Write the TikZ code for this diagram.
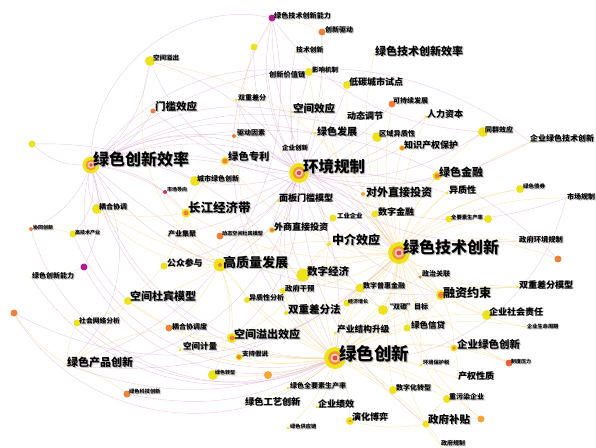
\documentclass[tikz,border=0pt]{standalone}
\usepackage{fontspec}
\setmainfont{Noto Sans CJK SC}
\usetikzlibrary{backgrounds}
\definecolor{ky}{RGB}{238,226,30}
\definecolor{ko}{RGB}{240,128,60}
\definecolor{kol}{RGB}{246,165,55}
\definecolor{kor}{RGB}{232,95,60}
\definecolor{kp}{RGB}{180,30,140}
\definecolor{kr}{RGB}{215,50,80}
\definecolor{ecp}{RGB}{210,150,200}
\definecolor{ecy}{RGB}{245,200,95}
\definecolor{hubo}{RGB}{245,150,40}
\definecolor{hubi}{RGB}{250,205,195}
\definecolor{hubr}{RGB}{228,70,70}
\tikzset{
  kdot/.style={circle,inner sep=0pt,draw=none},
  klab/.style={inner sep=0pt,anchor=west,text=black},
  edgep/.style={draw=ecp,line width=0.45pt,opacity=0.45},
  edgey/.style={draw=ecy,line width=0.45pt,opacity=0.42}
}
\newcommand\shd[1]{\rlap{\kern0.8pt\raisebox{-0.8pt}{\color{black!28}#1}}#1}
\newcommand\kd[5]{\node[kdot,minimum size=#4pt,fill=#5] (#1) at (#2,#3) {};}
\newcommand\kl[5]{\node[klab,font=\fontsize{#4pt}{#4pt}\selectfont\bfseries] (#1l) at (#2,#3) {\shd{#5}};}
\newcommand\hubrings[2]{%
  \fill[hubo] (#1) circle (#2*0.62pt);
  \fill[hubi] (#1) circle (#2*0.40pt);
  \fill[hubr] (#1) circle (#2*0.22pt);}
\newcommand\ocen[2]{\fill[ko] (#1) circle (#2pt);}
\begin{document}
\begin{tikzpicture}[x=1pt,y=-1pt]
\useasboundingbox (0,0) rectangle (596,447);
% ---------- dots ----------
\kd{GI}{335}{358}{22}{ky}
\kd{GTI}{399}{253}{22}{ky}
\kd{ER}{299}{173}{20}{ky}
\kd{GIE}{91}{165}{17}{ky}
\kd{HQ}{220}{265}{13}{ky}
\kd{DE}{303}{275}{13}{ky}
\kd{YRE}{186}{213}{9}{ky}
\kd{MED}{329}{244}{4}{ky}
\kd{FC}{441}{295}{10}{ky}
\kd{SDM}{128}{301}{8}{ky}
\kd{DIDf}{286}{313}{4}{ky}
\kd{SSE}{232}{338}{10}{ky}
\kd{GPI}{67}{365}{2}{ko}
\kd{EGI}{454}{348}{7}{ky}
\kd{GS}{426}{424}{7}{ky}
\kd{GD}{315}{133}{3}{ky}
\kd{SE}{292}{112}{3}{ky}
\kd{TE}{153}{111}{5}{ko}
\kd{GTIE}{374}{54}{2}{ky}
\kd{OFDI}{363}{194}{4}{kol}
\kd{GF}{437}{176}{9}{ky}
\kd{GP}{225}{161}{8}{ky}
\kd{FDI}{272}{230}{6}{ky}
\kd{PTM}{278}{201}{3}{ky}
\kd{DF}{375}{214}{7}{ky}
\kd{IE}{333}{218}{7}{ky}
\kd{HC}{426}{117}{3}{ky}
\kd{IPR}{402}{148}{6}{ky}
\kd{LCC}{347}{85}{8}{ky}
\kd{DA}{346}{118}{1.5}{ky}
\kd{RH}{377}{137}{10}{ky}
\kd{SD}{392}{104}{7}{ko}
\kd{PE}{483}{132}{10}{ky}
\kd{EGTI}{530}{142}{2}{ky}
\kd{HET}{447}{193}{3}{ky}
\kd{GB}{520}{189}{8}{ky}
\kd{MR}{566}{198}{1.5}{ky}
\kd{TFP}{449}{219}{7}{ky}
\kd{Y1}{488}{219}{8}{ky}
\kd{GER}{519}{241}{1.5}{ky}
\kd{O1}{558}{259}{7}{ko}
\kd{PC}{420}{277}{3.5}{ko}
\kd{DIDm}{517}{287}{3}{ky}
\kd{CSR}{487}{315}{10}{ky}
\kd{ELC}{526}{327}{1.5}{ky}
\kd{IP}{509}{363}{7}{kor}
\kd{EPT}{421}{365}{3}{ky}
\kd{PR}{457}{378}{1.5}{ky}
\kd{DT}{393}{390}{8}{ky}
\kd{HPE}{447}{399}{8}{ky}
\kd{O2}{481}{419}{7}{kol}
\kd{GR}{441}{446}{1.5}{ky}
\kd{EG}{350}{421}{8}{ky}
\kd{EP}{317}{407}{3}{ky}
\kd{GTFP}{288}{388}{3}{ky}
\kd{GPrI}{245}{403}{1.5}{ky}
\kd{O3}{268}{375}{8}{kol}
\kd{GT}{213}{375}{10}{ky}
\kd{GSC}{288}{428}{3}{ky}
\kd{SH}{239}{357}{7}{ky}
\kd{SEc}{180}{350}{3}{ky}
\kd{CCD}{169}{328}{7}{ko}
\kd{CC}{97}{209}{10}{ky}
\kd{HTI}{73}{234}{7}{ky}
\kd{CI}{31}{229}{4}{ko}
\kd{P1}{84}{267}{7}{kp}
\kd{GIC}{31}{277}{1.5}{ky}
\kd{O4}{14}{313}{7}{ko}
\kd{SNA}{77}{323}{7}{ky}
\kd{GSTI}{127}{394}{7}{ko}
\kd{MO}{165}{192}{4}{kr}
\kd{UGI}{195}{181}{10}{ky}
\kd{IA}{167}{235}{1.5}{ky}
\kd{DSDM}{220}{236}{7}{ko}
\kd{PP}{164}{266}{7}{ky}
\kd{GIv}{283}{291}{6}{ky}
\kd{HA}{247}{300}{6}{ky}
\kd{DIF}{360}{288}{9}{ky}
\kd{EGr}{347}{303}{7}{ky}
\kd{DC}{383}{310}{10}{ky}
\kd{ISU}{335}{333}{3}{ky}
\kd{GC}{407}{328}{7}{ky}
\kd{DFac}{234}{136}{4}{ko}
\kd{DDr}{236}{100}{3}{ky}
\kd{EI}{281}{152}{1.5}{ky}
\kd{IVC}{268}{77}{1.5}{ky}
\kd{IM}{309}{72}{8}{ky}
\kd{TI}{295}{52}{1.5}{ky}
\kd{ID}{322}{32}{7}{ko}
\kd{GTIC}{272}{18}{7}{kp}
\kd{Y2}{254}{47}{7}{ky}
\kd{SS}{150}{61}{10}{ky}
\kd{Y3}{32}{144}{7}{ky}
% ---------- hub rings and centres ----------
\hubrings{GI}{11}
\hubrings{GTI}{11}
\hubrings{ER}{10}
\hubrings{GIE}{8.5}
\ocen{HQ}{2}
\ocen{YRE}{2.5}
\ocen{FC}{3}
\ocen{SSE}{2.5}
\ocen{EGI}{1.8}
\ocen{GF}{2.5}
\ocen{GP}{2.5}
\ocen{FDI}{2}
\ocen{IPR}{2}
\ocen{SH}{2}
\ocen{EG}{1.5}
% ---------- edges ----------
\begin{scope}[on background layer]
\foreach \a/\b/\c in {GIE/ER/15,GIE/GTI/12,GIE/GI/-20,GIE/SS/-10,GIE/TE/-8,GIE/Y3/10,GIE/CC/-10,GIE/HTI/12,GIE/MO/5,GIE/UGI/8,GIE/YRE/10,GIE/GP/6,GIE/SE/12,GIE/GD/10,GIE/GTIC/25,GIE/SDM/-15,GIE/SSE/-12,GIE/P1/10,GIE/HQ/-8,GIE/DFac/8,GIE/GPI/20,GIE/EGTI/20,GIE/LCC/18,GIE/RH/12,GIE/FC/-10,GIE/CI/10,
ER/GTI/10,ER/GI/-15,ER/GP/5,ER/DFac/-5,ER/DDr/8,ER/SE/5,ER/GD/-5,ER/EI/5,ER/OFDI/5,ER/PTM/5,ER/FDI/-5,ER/MED/8,ER/DE/-10,ER/HQ/10,ER/YRE/5,ER/TE/8,ER/GF/-8,ER/HET/5,ER/IPR/-6,ER/HC/-8,ER/RH/-6,ER/LCC/-5,ER/IM/5,ER/TI/5,ER/ID/-5,ER/GTIC/10,ER/UGI/6,ER/PP/10,ER/DIDf/-8,ER/SSE/12,ER/DC/-8,ER/FC/-10,ER/GS/-12,ER/EGTI/-10,ER/MR/-12,ER/GER/-10,ER/DSDM/8,ER/IA/8,ER/SS/15,ER/PE/-10,ER/GPI/20,ER/SD/-5,ER/IVC/5,ER/Y2/10,
GI/P1/20,GI/O4/25,GI/GPI/10,GI/GSTI/10,GI/SNA/15,GI/HTI/20,GI/CI/25,GI/GIC/20,GTIC/GI/-20,GTI/GIE/-18,Y3/GI/18,
GTIC/GPI/22,SS/GI/20,O4/GTI/-18,GTIC/GTI/-14,GIE/O1/16,GI/MR/-20,GPI/GTI/-12,GTIC/PE/-12}
  {\pgfmathsetmacro\cc{2*\c}
  \draw[edgep] (\a) to[bend left=\cc] (\b);}
\foreach \a/\b/\c in {GTI/GI/10,GTI/FC/5,GTI/MED/5,GTI/DF/5,GTI/HET/5,GTI/GF/5,GTI/TFP/5,GTI/Y1/5,GTI/GB/8,GTI/GER/5,GTI/O1/8,GTI/PC/5,GTI/DIDm/-8,GTI/CSR/-8,GTI/EGI/-8,GTI/DC/5,GTI/DIF/5,GTI/EGr/5,GTI/GC/5,GTI/DE/-5,GTI/HQ/-8,GTI/DIDf/8,GTI/ISU/5,GTI/EGTI/8,GTI/PE/8,GTI/IPR/5,GTI/RH/5,GTI/SD/5,GTI/HC/5,GTI/GTIE/8,GTI/ID/10,GTI/IM/8,GTI/LCC/8,GTI/EPT/5,GTI/GS/-8,GTI/DT/-5,GTI/HPE/-8,GTI/MR/8,GTI/O2/-10,GTI/ELC/-8,GTI/IP/-8,GTI/GIv/5,GTI/SSE/10,GTI/GP/10,GTI/YRE/8,GTI/OFDI/5,
GI/GC/5,GI/DC/5,GI/EGI/5,GI/EPT/5,GI/PR/5,GI/DT/5,GI/HPE/5,GI/GS/5,GI/EG/5,GI/EP/5,GI/GTFP/5,GI/GSC/5,GI/GPrI/5,GI/O3/5,GI/GT/5,GI/SH/5,GI/SSE/5,GI/SEc/5,GI/CCD/5,GI/SDM/8,GI/DIDf/5,GI/ISU/5,GI/EGr/5,GI/HA/5,GI/GIv/5,GI/DE/5,GI/HQ/5,GI/MED/5,GI/FC/5,GI/CSR/8,GI/IP/8,GI/O2/8,GI/GR/5,GI/ELC/8,GI/DIDm/8,GI/PC/5,GI/DIF/5,
HQ/DE/5,HQ/YRE/5,HQ/PP/5,HQ/IA/5,HQ/DSDM/5,HQ/SSE/5,HQ/CCD/5,HQ/HA/5,HQ/SDM/5,HQ/FDI/5,HQ/SS/15,HQ/CC/10,HQ/GT/10,
DE/DIF/5,DE/GIv/5,DE/MED/5,DE/DIDf/5,DE/HA/5,DE/DF/5,DE/SSE/8,DE/DC/5,
YRE/UGI/5,YRE/CC/5,YRE/MO/5,YRE/GP/5,YRE/SDM/8,SSE/SEc/5,SSE/SDM/8,SDM/SNA/5,SDM/GPI/5,GPI/SNA/5,GPI/CCD/5,GPI/GSTI/5,GPI/O4/5,P1/GIC/5,GTIC/ID/5,GTIC/Y2/5,CI/HTI/5,FC/CSR/5,FC/EGI/5,FC/GC/5,FC/PC/5,FC/DIDm/5,EGI/PR/5,EGI/IP/5,GS/HPE/5,GS/EG/5,GS/O2/5,GS/GR/5,
SS/GTI/12,Y2/GI/-14,GB/GI/-14,CC/GTI/-10}
  {\pgfmathsetmacro\cc{2.2*\c}
  \draw[edgey] (\a) to[bend left=\cc] (\b);}
\end{scope}
% ---------- labels ----------
\kl{GI}{339}{354}{17.5}{绿色创新}
\kl{GTI}{403}{248}{16}{绿色技术创新}
\kl{ER}{303}{167}{15.5}{环境规制}
\kl{GIE}{93}{160}{16}{绿色创新效率}
\kl{HQ}{223}{263}{13}{高质量发展}
\kl{DE}{307}{272}{10.5}{数字经济}
\kl{YRE}{188}{208}{12.5}{长江经济带}
\kl{MED}{332}{240}{12}{中介效应}
\kl{FC}{443}{293}{12}{融资约束}
\kl{SDM}{130}{297}{11}{空间杜宾模型}
\kl{DIDf}{288}{310}{10.5}{双重差分法}
\kl{SSE}{234}{335}{11}{空间溢出效应}
\kl{GPI}{67}{363}{11}{绿色产品创新}
\kl{EGI}{457}{345}{10.5}{企业绿色创新}
\kl{GS}{428}{420}{10.5}{政府补贴}
\kl{GD}{317}{132}{10}{绿色发展}
\kl{SE}{293}{109}{10.5}{空间效应}
\kl{TE}{155}{107}{10.5}{门槛效应}
\kl{GTIE}{375}{52}{11}{绿色技术创新效率}
\kl{OFDI}{366}{193}{11}{对外直接投资}
\kl{GF}{439}{173}{11}{绿色金融}
\kl{GP}{228}{157}{10.3}{绿色专利}
\kl{FDI}{274}{227}{9}{外商直接投资}
\kl{PTM}{279}{198}{9}{面板门槛模型}
\kl{DF}{378}{212}{9}{数字金融}
\kl{IE}{337}{216}{6.3}{工业企业}
\kl{HC}{427}{115}{9}{人力资本}
\kl{IPR}{404}{146}{9}{知识产权保护}
\kl{LCC}{349}{82}{9}{低碳城市试点}
\kl{DA}{347}{116}{9}{动态调节}
\kl{RH}{379}{134}{7.2}{区域异质性}
\kl{SD}{393}{101}{7}{可持续发展}
\kl{PE}{485}{130}{7}{同群效应}
\kl{EGTI}{530}{139}{8}{企业绿色技术创新}
\kl{HET}{449}{190}{9}{异质性}
\kl{GB}{523}{187}{5.5}{绿色债券}
\kl{MR}{567}{197}{7}{市场规制}
\kl{TFP}{451}{218}{5.3}{全要素生产率}
\kl{GER}{519}{240}{7.3}{政府环境规制}
\kl{PC}{422}{274}{7}{政治关联}
\kl{DIDm}{519}{285}{9}{双重差分模型}
\kl{CSR}{489}{312}{9}{企业社会责任}
\kl{ELC}{527}{327}{5.2}{企业生命周期}
\kl{IP}{511}{362}{5}{制度压力}
\kl{EPT}{423}{363}{5.2}{环境保护税}
\kl{PR}{458}{376}{9}{产权性质}
\kl{DT}{396}{388}{7}{数字化转型}
\kl{HPE}{449}{397}{7}{重污染企业}
\kl{GR}{441}{444}{6}{政府规制}
\kl{EG}{352}{417}{9}{演化博弈}
\kl{EP}{318}{404}{9}{企业绩效}
\kl{GTFP}{290}{386}{7}{绿色全要素生产率}
\kl{GPrI}{245}{402}{9.2}{绿色工艺创新}
\kl{GT}{215}{373}{5}{绿色转型}
\kl{GSC}{290}{427}{5.2}{绿色供应链}
\kl{SH}{242}{354}{6.5}{支持假说}
\kl{SEc}{183}{347}{8.5}{空间计量}
\kl{CCD}{172}{327}{7}{耦合协调度}
\kl{CC}{99}{207}{7}{耦合协调}
\kl{HTI}{75}{233}{5}{高技术产业}
\kl{CI}{33}{228}{5}{协同创新}
\kl{GIC}{32}{276}{7}{绿色创新能力}
\kl{SNA}{79}{321}{6.8}{社会网络分析}
\kl{GSTI}{129}{392}{5.2}{绿色科技创新}
\kl{MO}{167}{190}{5}{市场导向}
\kl{UGI}{197}{179}{7}{城市绿色创新}
\kl{IA}{168}{234}{7}{产业集聚}
\kl{DSDM}{222}{234}{5.1}{动态空间杜宾模型}
\kl{PP}{167}{263}{8.8}{公众参与}
\kl{GIv}{285}{289}{7.3}{政府干预}
\kl{HA}{249}{298}{7}{异质性分析}
\kl{DIF}{363}{286}{7}{数字普惠金融}
\kl{EGr}{348}{302}{5}{经济增长}
\kl{DC}{386}{307}{7}{“双碳”目标}
\kl{ISU}{337}{330}{8.7}{产业结构升级}
\kl{GC}{411}{326}{8.5}{绿色信贷}
\kl{DFac}{237}{133}{7}{驱动因素}
\kl{DDr}{238}{98}{7}{双重差分}
\kl{EI}{282}{148}{6.5}{企业创新}
\kl{IVC}{269}{75}{7.2}{创新价值链}
\kl{IM}{312}{70}{6.5}{影响机制}
\kl{TI}{296}{50}{6.8}{技术创新}
\kl{ID}{325}{30}{7}{创新驱动}
\kl{GTIC}{274}{16}{7.1}{绿色技术创新能力}
\kl{SS}{153}{58}{6.5}{空间溢出}
\end{tikzpicture}
\end{document}
